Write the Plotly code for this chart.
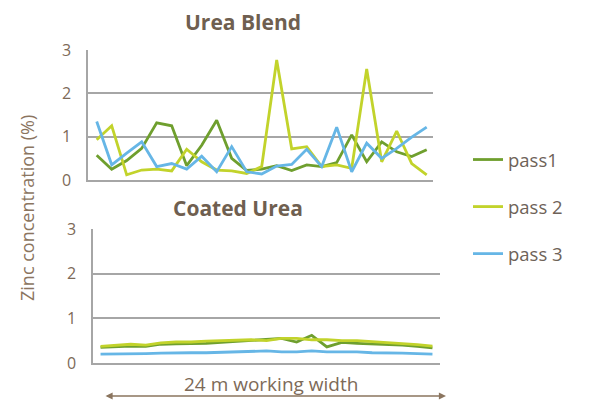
import plotly.graph_objects as go

positions = list(range(23))

blend_pass1 = [0.57, 0.25, 0.45, 0.73, 1.32, 1.25, 0.33, 0.8, 1.38, 0.5, 0.22, 0.25,
               0.33, 0.22, 0.35, 0.31, 0.4, 1.04, 0.42, 0.88, 0.65, 0.54, 0.7]
blend_pass2 = [0.93, 1.25, 0.12, 0.23, 0.25, 0.21, 0.71, 0.42, 0.23, 0.21, 0.15, 0.31,
               2.77, 0.72, 0.77, 0.31, 0.35, 0.27, 2.56, 0.42, 1.13, 0.38, 0.12]
blend_pass3 = [1.35, 0.35, 0.62, 0.88, 0.31, 0.38, 0.25, 0.55, 0.19, 0.77, 0.19, 0.14,
               0.32, 0.36, 0.71, 0.31, 1.22, 0.19, 0.85, 0.5, 0.73, 0.99, 1.22]

coated_pass1 = [0.35, 0.37, 0.38, 0.37, 0.42, 0.43, 0.43, 0.44, 0.46, 0.48, 0.5, 0.52,
                0.55, 0.47, 0.62, 0.36, 0.46, 0.44, 0.43, 0.41, 0.4, 0.37, 0.34]
coated_pass2 = [0.37, 0.4, 0.42, 0.4, 0.45, 0.47, 0.47, 0.49, 0.5, 0.52, 0.52, 0.5,
                0.55, 0.55, 0.52, 0.52, 0.5, 0.5, 0.48, 0.46, 0.44, 0.41, 0.38]
coated_pass3 = [0.2, 0.2, 0.2, 0.21, 0.22, 0.23, 0.23, 0.23, 0.24, 0.26, 0.27, 0.27,
                0.25, 0.25, 0.27, 0.25, 0.25, 0.25, 0.23, 0.23, 0.22, 0.21, 0.2]

series_names = ["pass1", "pass 2", "pass 3"]
y_ticks = [0, 1, 2, 3]

colors = ["#6f9f2e", "#c2d32b", "#66b6e6"]
text_col = "#7d6a58"
grid_col = "#a6a6a6"
font_family = "Open Sans, Lato, sans-serif"

# page body has an 8px margin; the figure fills the rest of the 589x401 window
OFF = 8
W, H = 589 - OFF, 401 - OFF

def fx(px):
    return (px - OFF) / W

def fy(py):
    return 1 - (py - OFF) / H

fig = go.Figure()

for name, ys, c in zip(series_names, [blend_pass1, blend_pass2, blend_pass3], colors):
    fig.add_trace(go.Scatter(x=positions, y=ys, mode="lines", name=name,
                             line=dict(color=c, width=2.8), legendgroup=name,
                             xaxis="x", yaxis="y"))
for name, ys, c in zip(series_names, [coated_pass1, coated_pass2, coated_pass3], colors):
    fig.add_trace(go.Scatter(x=positions, y=ys, mode="lines", name=name,
                             line=dict(color=c, width=2.8), legendgroup=name,
                             showlegend=False, xaxis="x2", yaxis="y2"))

def yax(domain, anchor):
    return dict(domain=domain, anchor=anchor, range=[0, 3], tickvals=y_ticks,
                showgrid=True, gridcolor=grid_col, gridwidth=1.5,
                showline=True, linecolor=grid_col, linewidth=1.5,
                zeroline=False, ticks="", ticklabelstandoff=12, automargin=False,
                tickfont=dict(size=16, color=text_col, family=font_family))

def xax(domain, anchor, rng):
    return dict(domain=domain, anchor=anchor, range=rng, showgrid=False,
                showticklabels=False, ticks="", zeroline=False, automargin=False,
                showline=True, linecolor=grid_col, linewidth=1.5)

fig.update_layout(
    width=W, height=H,
    margin=dict(l=0, r=0, t=0, b=0, pad=0, autoexpand=False),
    paper_bgcolor="white", plot_bgcolor="white",
    font=dict(family=font_family, color=text_col),
    xaxis=xax([fx(88), fx(433)], "y", [-0.58, 22.42]),
    yaxis=yax([fy(180), fy(50)], "x"),
    xaxis2=xax([fx(93), fx(440)], "y2", [-0.5, 22.5]),
    yaxis2=yax([fy(363), fy(229)], "x2"),
    legend=dict(x=fx(468), y=fy(141), xanchor="left", yanchor="top",
                font=dict(size=18.5, color="#6e6258", family=font_family),
                tracegroupgap=20, bgcolor="rgba(0,0,0,0)"),
    showlegend=True,
)

annos = [
    dict(text="<b>Urea Blend</b>", x=fx(243), y=fy(22), font=dict(size=21, color="#6f5f50")),
    dict(text="<b>Coated Urea</b>", x=fx(238), y=fy(208), font=dict(size=21, color="#6f5f50")),
    dict(text="Zinc concentration (%)", x=fx(27), y=fy(208), textangle=-90,
         font=dict(size=18, color="#8b755f")),
    dict(text="24 m working width", x=fx(271), y=fy(384),
         font=dict(size=19, color="#7d6a58")),
]
for a in annos:
    fig.add_annotation(xref="paper", yref="paper", showarrow=False,
                       xanchor="center", yanchor="middle", **a)

fig.add_annotation(xref="paper", yref="paper", x=fx(446), y=fy(396),
                   axref="pixel", ayref="pixel", ax=-342, ay=0, text="",
                   showarrow=True, arrowside="end+start", arrowhead=2,
                   arrowsize=1.1, arrowwidth=1.3, arrowcolor="#8b755f")

fig.write_html("out.html")
